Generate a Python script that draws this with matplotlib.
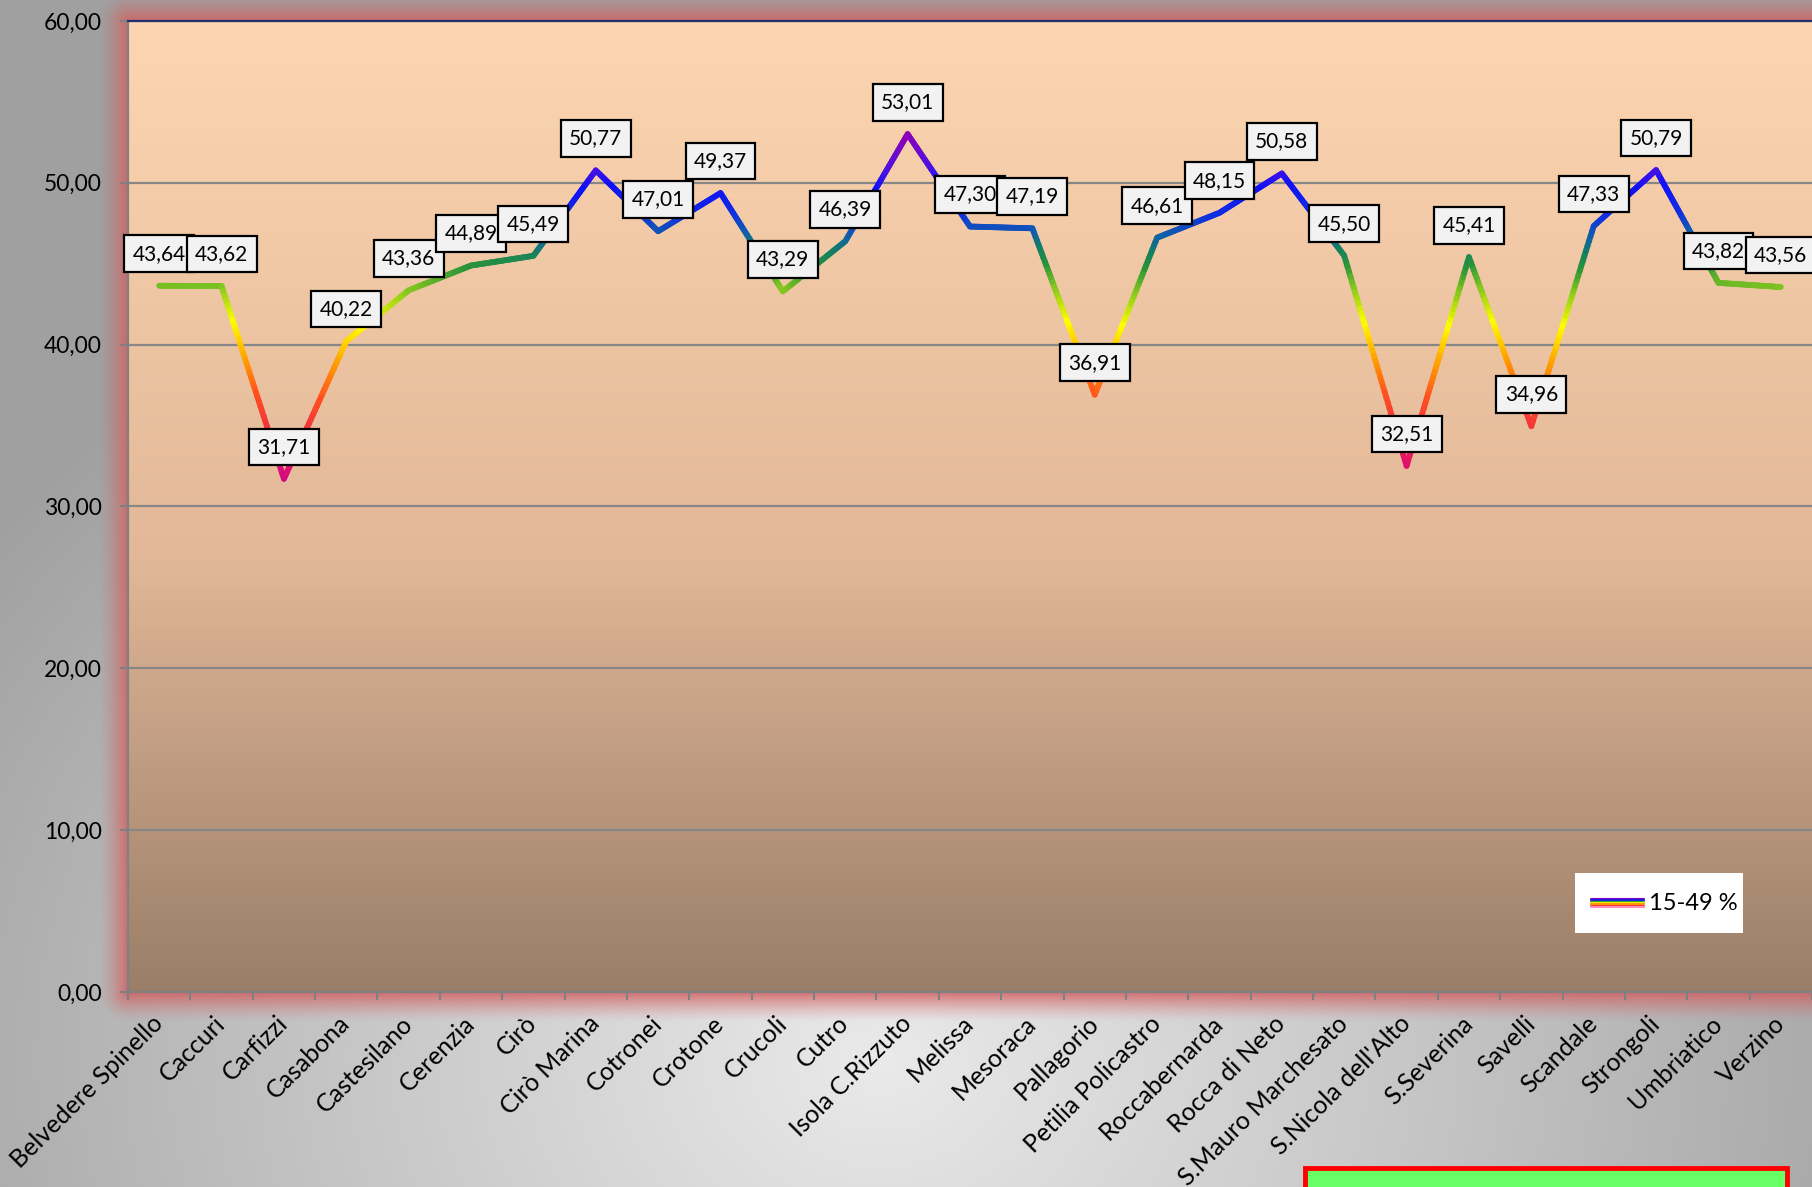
import numpy as np
import matplotlib
matplotlib.use("Agg")
from matplotlib import pyplot as plt
from matplotlib.collections import LineCollection
from matplotlib.colors import LinearSegmentedColormap, Normalize
from matplotlib.patches import Rectangle
from matplotlib.lines import Line2D

comuni = ["Belvedere Spinello", "Caccuri", "Carfizzi", "Casabona", "Castesilano",
          "Cerenzia", "Cirò", "Cirò Marina", "Cotronei", "Crotone", "Crucoli",
          "Cutro", "Isola C.Rizzuto", "Melissa", "Mesoraca", "Pallagorio",
          "Petilia Policastro", "Roccabernarda", "Rocca di Neto",
          "S.Mauro Marchesato", "S.Nicola dell'Alto", "S.Severina", "Savelli",
          "Scandale", "Strongoli", "Umbriatico", "Verzino"]
valori = [43.64, 43.62, 31.71, 40.22, 43.36, 44.89, 45.49, 50.77, 47.01, 49.37,
          43.29, 46.39, 53.01, 47.30, 47.19, 36.91, 46.61, 48.15, 50.58, 45.50,
          32.51, 45.41, 34.96, 47.33, 50.79, 43.82, 43.56]
serie = "15-49 %"
y_ticks = [0, 10, 20, 30, 40, 50, 60]

plt.rcParams['font.family'] = ['Lato', 'DejaVu Sans']

W, H, DPI = 1812, 1187, 100
fig = plt.figure(figsize=(W / DPI, H / DPI), dpi=DPI)

# plot area in pixels
p_left, p_right, p_top, p_bottom = 128, 1812, 21, 992

# figure background: grey radial gradient + red glow round the plot area
bg = fig.add_axes([0, 0, 1, 1], zorder=-10)
yy, xx = np.mgrid[0:H, 0:W]
r = np.hypot((xx - 880) / 1100, (yy - 1060) / 900)
gray = (234 - 74 * np.clip(r, 0, 1)) / 255
img = np.dstack([gray] * 3)
dx = np.maximum(np.maximum(p_left - xx, xx - p_right), 0)
dy = np.maximum(np.maximum(p_top - yy, yy - p_bottom), 0)
d = np.hypot(dx, dy)
a = 0.85 * np.clip(1 - d / 30, 0, 1) ** 1.4
glow = np.array([210, 95, 95]) / 255
img = img * (1 - a[..., None]) + glow * a[..., None]
bg.imshow(img, extent=[0, 1, 0, 1], aspect='auto', origin='upper')
bg.axis('off')

ax = fig.add_axes([p_left / W, 1 - p_bottom / H, (p_right - p_left) / W,
                   (p_bottom - p_top) / H])
n = len(comuni)
ax.set_xlim(0, n)
ax.set_ylim(0, 60)

# plot area gradient, peach at top to brown at bottom
top = np.array([253, 214, 177]) / 255
mid = np.array([226, 184, 152]) / 255
bot = np.array([154, 126, 104]) / 255
rows = []
for tv in np.linspace(0, 1, 256):
    if tv < 0.55:
        rows.append(top + (mid - top) * tv / 0.55)
    else:
        rows.append(mid + (bot - mid) * (tv - 0.55) / 0.45)
grad = np.array(rows)[:, None, :]
ax.imshow(grad, extent=[0, n, 0, 60], aspect='auto', origin='upper', zorder=0)

ax.set_axisbelow(True)
ax.yaxis.grid(True, color='#878787', lw=1.6)

# gradient line coloured by value
stops = [(30.0, '#b800a8'), (32.5, '#e01070'), (34.5, '#f03040'),
         (36.8, '#ff5020'), (39.0, '#ffa000'), (41.3, '#ffff00'),
         (43.5, '#80c420'), (44.8, '#2c9438'), (45.8, '#148060'),
         (46.8, '#1060a8'), (48.0, '#1030e0'), (49.8, '#1010f8'),
         (51.0, '#5010e0'), (53.0, '#9000b8'), (55.0, '#a000b0')]
vmin, vmax = stops[0][0], stops[-1][0]
cmap = LinearSegmentedColormap.from_list(
    'grad', [((v - vmin) / (vmax - vmin), c) for v, c in stops])
norm = Normalize(vmin, vmax)

x = np.arange(n) + 0.5
y = np.array(valori)
segs, cols = [], []
for i in range(n - 1):
    xs = np.linspace(x[i], x[i + 1], 41)
    ys = np.linspace(y[i], y[i + 1], 41)
    for k in range(40):
        segs.append([(xs[k], ys[k]), (xs[k + 1], ys[k + 1])])
        cols.append(cmap(norm((ys[k] + ys[k + 1]) / 2)))
lc = LineCollection(segs, colors=cols, linewidths=4.2, capstyle='round',
                    joinstyle='round', zorder=3)
ax.add_collection(lc)

for xi, v in zip(x, valori):
    ax.annotate(f"{v:.2f}".replace('.', ','), (xi, v), xytext=(0, 23),
                textcoords='offset points', ha='center', va='center',
                fontsize=15, zorder=5, annotation_clip=False,
                bbox=dict(boxstyle='square,pad=0.4', fc='#f2f2f2',
                          ec='black', lw=1.6))

# axes styling
ax.set_xticks(np.arange(n + 1))
ax.set_xticklabels([])
ax.set_xticks(x, labels=comuni, minor=True)
ax.tick_params(axis='x', which='major', length=6, width=1.5, color='#808080')
ax.tick_params(axis='x', which='minor', length=0, pad=20, labelsize=18)
for lab in ax.get_xticklabels(minor=True):
    lab.set_rotation(45)
    lab.set_ha('right')
    lab.set_va('center')
    lab.set_rotation_mode('anchor')

ax.set_yticks(y_ticks, labels=[f"{v:.2f}".replace('.', ',') for v in y_ticks])
ax.tick_params(axis='y', length=6, width=1.5, color='#808080', pad=13,
               labelsize=16.5)
for s in ['left', 'bottom']:
    ax.spines[s].set_color('#808080')
    ax.spines[s].set_linewidth(1.6)
ax.spines['top'].set_color('#1f2f70')
ax.spines['top'].set_linewidth(1.6)
ax.spines['right'].set_visible(False)


def fx(px):
    return px / W


def fy(py):
    return 1 - py / H


# legend box
fig.add_artist(Rectangle((fx(1575), fy(933)), fx(1743) - fx(1575),
                         fy(873) - fy(933), transform=fig.transFigure,
                         fc='white', ec='none', zorder=20))
stripe_cols = ['#8000c0', '#2020e0', '#30a030', '#f0f000', '#ff9900',
               '#ff3030', '#ff90c0']
for k, c in enumerate(stripe_cols):
    yk = fy(899 + k * 1.3)
    fig.add_artist(Line2D([fx(1591), fx(1644)], [yk, yk], color=c, lw=1.5,
                          solid_capstyle='round', transform=fig.transFigure,
                          zorder=21))
fig.text(fx(1649), fy(903), serie, fontsize=17, va='center', ha='left',
         zorder=22)

# green note box cut off at the bottom
fig.add_artist(Rectangle((fx(1305), -0.05), fx(1787) - fx(1305),
                         0.05 + fy(1168), transform=fig.transFigure,
                         fc='#66ff66', ec='red', lw=3.5, zorder=20))

fig.savefig('out.png', dpi=DPI)
